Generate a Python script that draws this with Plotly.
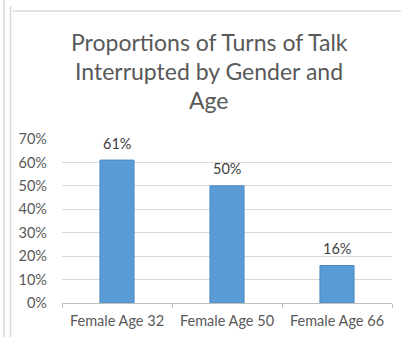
import plotly.graph_objects as go

categories = ["Female Age 32", "Female Age 50", "Female Age 66"]
values = [0.61, 0.50, 0.16]
value_labels = ["61%", "50%", "16%"]
y_ticks = [0, 0.1, 0.2, 0.3, 0.4, 0.5, 0.6, 0.7]
y_tick_labels = ["0%", "10%", "20%", "30%", "40%", "50%", "60%", "70%"]
title_lines = ["Proportions of Turns of Talk", "Interrupted by Gender and", "Age"]

W, H = 401, 337
L, R, T, B = 62, 9, 139, 34
pw, ph = W - L - R, H - T - B

def px(x):
    return (x - L) / pw

def py(y):
    return (H - B - y) / ph

fig = go.Figure()
fig.add_trace(go.Bar(
    x=categories, y=values,
    marker=dict(color="#5b9bd5", line=dict(color="#4a89c4", width=1)),
    width=0.31,
))

annotations = []
for c, v, t in zip(categories, values, value_labels):
    annotations.append(dict(x=c, y=v, xref="x", yref="y", text=t, showarrow=False,
                            yanchor="middle", yshift=17,
                            font=dict(family="Lato", size=14.5, color="#404040")))
title_y = [42, 71, 100]
for line, yy in zip(title_lines, title_y):
    annotations.append(dict(x=px(209), y=py(yy), xref="paper", yref="paper", text=line,
                            showarrow=False, xanchor="center", yanchor="middle",
                            font=dict(family="Lato", size=23, color="#595959")))

line_col = "#d9d9d9"
shapes = [
    dict(type="line", xref="paper", yref="paper", x0=px(4), x1=px(4), y0=py(0), y1=py(H),
         line=dict(color=line_col, width=1.5)),
    dict(type="line", xref="paper", yref="paper", x0=px(10.5), x1=px(10.5), y0=py(6), y1=py(H),
         line=dict(color=line_col, width=1.5)),
    dict(type="line", xref="paper", yref="paper", x0=px(13), x1=px(W), y0=py(11), y1=py(11),
         line=dict(color=line_col, width=1.5)),
]

fig.update_layout(
    width=W, height=H,
    margin=dict(l=L, r=R, t=T, b=B),
    paper_bgcolor="white", plot_bgcolor="white",
    showlegend=False,
    shapes=shapes,
    annotations=annotations,
    font=dict(family="Lato", color="#595959"),
    xaxis=dict(
        showgrid=False, showline=True, linecolor="#bfbfbf", linewidth=1,
        ticks="outside", tickson="boundaries", ticklen=4, tickcolor="#bfbfbf",
        ticklabelstandoff=5,
        tickfont=dict(family="Lato", size=14.5, color="#595959"),
    ),
    yaxis=dict(
        range=[0, 0.7], tickvals=y_ticks, ticktext=y_tick_labels,
        showgrid=True, gridcolor=line_col, gridwidth=1, zeroline=False,
        showline=False, ticks="", ticklabelstandoff=14,
        tickfont=dict(family="Lato", size=14.5, color="#595959"),
    ),
)

fig.write_html("out.html")
